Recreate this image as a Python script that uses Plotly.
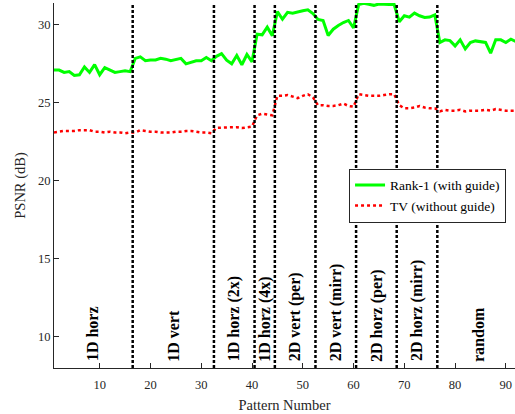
import plotly.graph_objects as go

# ---- data ----
pattern = list(range(1, 93))

rank1 = [
    # 1D horz (1-16)
    27.1, 27.1, 26.95, 27.0, 26.75, 26.8, 27.3, 26.95, 27.45, 26.8, 27.25, 27.1, 26.95, 27.0, 27.05, 27.0,
    # 1D vert (17-32)
    27.85, 27.95, 27.7, 27.75, 27.75, 27.85, 27.8, 27.7, 27.8, 27.85, 27.5, 27.6, 27.7, 27.7, 27.9, 27.7,
    # 1D horz (2x) (33-40)
    27.98, 28.15, 27.74, 27.5, 28.03, 27.44, 28.1, 27.63,
    # 1D horz (4x) (41-44)
    29.4, 29.36, 29.85, 29.3,
    # 2D vert (per) (45-52)
    30.85, 30.36, 30.8, 30.75, 30.85, 30.9, 30.96, 30.72,
    # 2D vert (mirr) (53-60)
    30.35, 30.28, 29.32, 29.72, 29.96, 30.15, 30.28, 29.8,
    # 2D horz (per) (61-68)
    31.3, 31.38, 31.32, 31.25, 31.34, 31.3, 31.3, 31.3,
    # 2D horz (mirr) (69-76)
    30.2, 30.58, 30.49, 30.75, 30.58, 30.47, 30.5, 30.64,
    # random (77-92)
    28.87, 29.04, 28.99, 28.65, 29.04, 28.46, 28.87, 28.97, 28.9, 28.87, 28.18, 29.04, 29.04, 28.87, 29.08, 28.93,
]

tv = [
    23.1, 23.15, 23.2, 23.2, 23.2, 23.25, 23.25, 23.25, 23.15, 23.15, 23.1, 23.15, 23.1, 23.1, 23.05, 23.1,
    23.1, 23.25, 23.2, 23.15, 23.15, 23.1, 23.1, 23.1, 23.15, 23.15, 23.2, 23.2, 23.15, 23.1, 23.1, 23.05,
    23.4, 23.42, 23.44, 23.44, 23.44, 23.38, 23.44, 23.48,
    24.2, 24.3, 24.25, 24.2,
    25.45, 25.45, 25.5, 25.4, 25.3, 25.45, 25.55, 25.35,
    24.85, 24.85, 24.8, 24.8, 24.85, 24.95, 24.8, 24.75,
    25.55, 25.5, 25.45, 25.45, 25.45, 25.5, 25.55, 25.55,
    24.85, 24.65, 24.65, 24.7, 24.8, 24.7, 24.65, 24.65,
    24.45, 24.55, 24.5, 24.5, 24.55, 24.45, 24.5, 24.5, 24.5, 24.55, 24.5, 24.6, 24.55, 24.5, 24.5, 24.5,
]

group_names = ["1D horz", "1D vert", "1D horz (2x)", "1D horz (4x)", "2D vert (per)",
               "2D vert (mirr)", "2D horz (per)", "2D horz (mirr)", "random"]
group_starts = [1, 17, 33, 41, 45, 53, 61, 69, 77]
group_ends = [16, 32, 40, 44, 52, 60, 68, 76, 92]

x_ticks = [10, 20, 30, 40, 50, 60, 70, 80, 90]
y_ticks = [10, 15, 20, 25, 30]

FONT = "Liberation Serif"
AXC = "#262626"

fig = go.Figure()
fig.add_trace(go.Scatter(x=pattern, y=rank1, mode="lines", name="Rank-1 (with guide)",
                         line=dict(color="#00FF00", width=3)))
fig.add_trace(go.Scatter(x=pattern, y=tv, mode="lines", name="TV (without guide)",
                         line=dict(color="#FF0000", width=2.5, dash="3px,3px")))

# group separators
for e in group_ends[:-1]:
    fig.add_shape(type="line", xref="x", yref="paper", x0=e + 0.5, x1=e + 0.5, y0=0, y1=1,
                  line=dict(color="black", width=2.5, dash="3px,2px"), layer="above")

# group labels
for name, s, e in zip(group_names, group_starts, group_ends):
    fig.add_annotation(x=(s + e) / 2, y=8.35, xref="x", yref="y", text="<b>" + name + "</b>",
                       textangle=-90, showarrow=False, yanchor="bottom", xanchor="center",
                       borderpad=0, font=dict(family=FONT, size=16, color="black"))

fig.update_layout(
    width=515, height=414,
    margin=dict(l=54, r=0, t=3, b=46),
    paper_bgcolor="white", plot_bgcolor="white",
    font=dict(family=FONT, color=AXC),
    showlegend=True,
    legend=dict(x=0.64, y=0.546, xanchor="left", yanchor="top",
                bgcolor="white", bordercolor=AXC, borderwidth=1,
                font=dict(family=FONT, size=13.5, color="black"),
                tracegroupgap=0, itemwidth=30),
    xaxis=dict(range=[1, 91.8], tickvals=x_ticks, ticks="inside", ticklen=5,
               tickcolor=AXC, showline=True, linecolor=AXC, linewidth=1, showgrid=False,
               zeroline=False, tickfont=dict(family=FONT, size=12.5, color=AXC),
               ticklabelstandoff=5,
               title=dict(text="Pattern Number", font=dict(family=FONT, size=14.5, color=AXC), standoff=8)),
    yaxis=dict(range=[8, 31.4], tickvals=y_ticks, ticks="inside", ticklen=5,
               tickcolor=AXC, showline=True, linecolor=AXC, linewidth=1, showgrid=False,
               zeroline=False, tickfont=dict(family=FONT, size=12.5, color=AXC),
               title=dict(text="PSNR (dB)", font=dict(family=FONT, size=14.5, color=AXC), standoff=8)),
)

fig.write_html("out.html", config={"displayModeBar": False},
               post_script="document.body.style.margin='0';")
